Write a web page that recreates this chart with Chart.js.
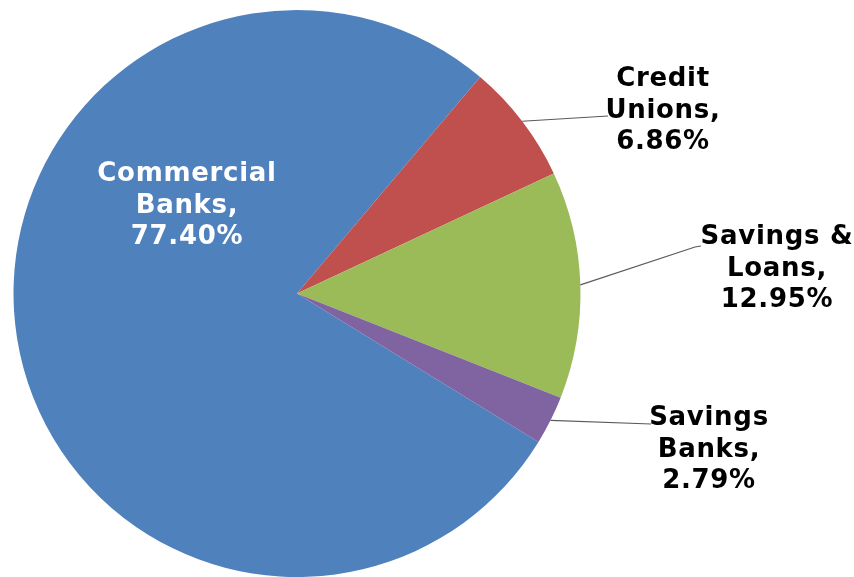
<!DOCTYPE html>
<html>
<head>
<meta charset="utf-8">
<title>Deposits by institution type</title>
<script src="https://cdn.jsdelivr.net/npm/chart.js@4/dist/chart.umd.min.js"></script>
<style>
  html, body { margin: 0; padding: 0; background: #fff; }
  #wrap { width: 854px; height: 577px; position: relative; }
</style>
</head>
<body>
<div id="wrap"><canvas id="pie"></canvas></div>
<script>
// Share of deposits by institution type (percent)
const categories = ['Commercial Banks', 'Credit Unions', 'Savings & Loans', 'Savings Banks'];
const shares = [77.40, 6.86, 12.95, 2.79];
const sliceColors = ['#4F81BD', '#C0504D', '#9BBB59', '#8064A2'];

// Label text split into lines, as it appears on the chart
const labelLines = [
    ['Commercial', 'Banks,', '77.40%'],
    ['Credit', 'Unions,', '6.86%'],
    ['Savings &', 'Loans,', '12.95%'],
    ['Savings', 'Banks,', '2.79%']
];

// Where each label block sits (centre x, first baseline) and where its leader line ends
const labelPlacement = [
    { x: 187, y: 181, inside: true },
    { x: 663, y: 86, leaderEnd: [[608, 116]] },
    { x: 777, y: 244, leaderEnd: [[695, 247], [701, 246]] },
    { x: 709, y: 425, leaderEnd: [[651, 424]] }
];

const LINE_HEIGHT = 31.5;

const pieLabels = {
    id: 'pieLabels',
    afterDatasetsDraw(chart) {
        const ctx = chart.ctx;
        const arcs = chart.getDatasetMeta(0).data;
        ctx.save();
        arcs.forEach((arc, i) => {
            const place = labelPlacement[i];
            if (place.leaderEnd) {
                const mid = (arc.startAngle + arc.endAngle) / 2;
                const sx = arc.x + Math.cos(mid) * arc.outerRadius;
                const sy = arc.y + Math.sin(mid) * arc.outerRadius;
                ctx.beginPath();
                ctx.moveTo(sx, sy);
                place.leaderEnd.forEach(p => ctx.lineTo(p[0], p[1]));
                ctx.strokeStyle = '#5a5a5a';
                ctx.lineWidth = 1.2;
                ctx.stroke();
            }
            ctx.font = "bold 26px 'DejaVu Sans', Verdana, sans-serif";
            ctx.letterSpacing = '0.7px';
            ctx.textAlign = 'center';
            ctx.textBaseline = 'alphabetic';
            ctx.fillStyle = place.inside ? '#ffffff' : '#000000';
            labelLines[i].forEach((line, k) => {
                ctx.fillText(line, place.x, place.y + k * LINE_HEIGHT);
            });
        });
        ctx.restore();
    }
};

new Chart(document.getElementById('pie'), {
    type: 'pie',
    data: {
        labels: categories,
        datasets: [{
            data: shares,
            backgroundColor: sliceColors,
            borderWidth: 0
        }]
    },
    options: {
        responsive: true,
        maintainAspectRatio: false,
        animation: false,
        rotation: 121.6,
        layout: { padding: { top: 10, bottom: 0, left: 13.5, right: 273.5 } },
        plugins: {
            legend: { display: false },
            tooltip: { enabled: false }
        }
    },
    plugins: [pieLabels]
});
</script>
</body>
</html>
